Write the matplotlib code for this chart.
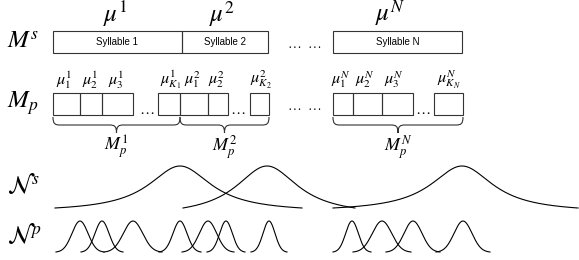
import numpy as np
import matplotlib.pyplot as plt
from matplotlib.patches import Rectangle, PathPatch
from matplotlib.path import Path

plt.rcParams['mathtext.fontset'] = 'stix'
plt.rcParams['font.family'] = ['Liberation Sans', 'DejaVu Sans']

# syllable level
syllables = ['Syllable 1', 'Syllable 2', 'Syllable N']
syl_x = [53, 182, 333]
syl_w = [129, 86, 129]
syl_mu = [r'$\mu^1$', r'$\mu^2$', r'$\mu^N$']
syl_mu_x = [115, 222, 390]

# phoneme level: box left edges / widths and labels
ph_x = [53, 80, 102, 158, 180, 208, 250, 333, 353, 382, 434]
ph_w = [27, 22, 31, 22, 28, 20, 19, 20, 29, 31, 29]
ph_labels = [r'$\mu_1^1$', r'$\mu_2^1$', r'$\mu_3^1$', r'$\mu_{K_1}^1$',
             r'$\mu_1^2$', r'$\mu_2^2$', r'$\mu_{K_2}^2$',
             r'$\mu_1^N$', r'$\mu_2^N$', r'$\mu_3^N$', r'$\mu_{K_N}^N$']
ph_label_x = [64, 90, 116, 171, 193, 217, 261, 341, 365, 394, 449]
gap_dots_x = [147, 238, 423]

brace_span = [(53, 180), (180, 269), (333, 463)]
brace_labels = [r'$M_p^1$', r'$M_p^2$', r'$M_p^N$']

# syllable-level densities (heavy-tailed): centre, left/right extent, scale
ns_mu = [180, 267, 462]
ns_left = [125, 84, 129]
ns_right = [122, 88, 116]
ns_gamma = [38, 38, 38]

# phoneme-level gaussians: centre, half extent
np_mu = [80, 102, 133, 180, 208, 226, 269, 352, 382, 413, 463]
np_half = [24, 21, 29, 21, 26, 19, 18, 19, 29, 27, 27]

fig = plt.figure(figsize=(5.79, 2.6), dpi=100)
ax = fig.add_axes([0, 0, 1, 1])
ax.set_xlim(0, 579)
ax.set_ylim(260, 0)
ax.axis('off')

edge = '#333333'
lw = 0.8

# row labels
ax.text(7, 42, r'$M^s$', fontsize=18, va='center', ha='left')
ax.text(7, 103, r'$M_p$', fontsize=18, va='center', ha='left')
ax.text(7, 186, r'$\mathcal{N}^s$', fontsize=18, va='center', ha='left')
ax.text(7, 235, r'$\mathcal{N}^p$', fontsize=18, va='center', ha='left')

# syllable boxes
for x, w, lab, mx, mu in zip(syl_x, syl_w, syllables, syl_mu_x, syl_mu):
    ax.add_patch(Rectangle((x, 31), w, 22, fill=False, ec=edge, lw=lw))
    ax.text(x + w / 2, 42, lab, fontsize=7, ha='center', va='center')
    ax.text(mx, 14, mu, fontsize=18, ha='center', va='center')

for xd in [294, 314]:
    ax.text(xd, 48, r'$\ldots$', fontsize=10, ha='center', va='baseline')
    ax.text(xd, 110, r'$\ldots$', fontsize=10, ha='center', va='baseline')

# phoneme boxes
for x, w, lab, lx in zip(ph_x, ph_w, ph_labels, ph_label_x):
    ax.add_patch(Rectangle((x, 93), w, 22, fill=False, ec=edge, lw=lw))
    ax.text(lx, 80, lab, fontsize=11.5, ha='center', va='center')
for xd in gap_dots_x:
    ax.text(xd, 114, r'$\ldots$', fontsize=11, ha='center', va='baseline')


def brace(x0, x1, ytop=117, ym=125, ytip=133, r=7):
    mid = (x0 + x1) / 2
    verts = [(x0, ytop), (x0, ym - 1), (x0 + r * 0.3, ym), (x0 + r, ym),
             (mid - r, ym),
             (mid - r * 0.3, ym), (mid, ym + 1), (mid, ytip),
             (mid, ym + 1), (mid + r * 0.3, ym), (mid + r, ym),
             (x1 - r, ym),
             (x1 - r * 0.3, ym), (x1, ym - 1), (x1, ytop)]
    codes = [Path.MOVETO, Path.CURVE4, Path.CURVE4, Path.CURVE4,
             Path.LINETO,
             Path.CURVE4, Path.CURVE4, Path.CURVE4,
             Path.CURVE4, Path.CURVE4, Path.CURVE4,
             Path.LINETO,
             Path.CURVE4, Path.CURVE4, Path.CURVE4]
    ax.add_patch(PathPatch(Path(verts, codes), fill=False, ec=edge, lw=lw))
    return mid


for (x0, x1), lab in zip(brace_span, brace_labels):
    m = brace(x0, x1)
    ax.text(m, 147, lab, fontsize=13, ha='center', va='center')

# syllable densities
base_s, top_s = 208, 166
for mu, l, r, g in zip(ns_mu, ns_left, ns_right, ns_gamma):
    x = np.linspace(mu - l, mu + r, 400)
    f = 1 / (1 + ((x - mu) / g) ** 2)
    fend = np.where(x < mu, 1 / (1 + (l / g) ** 2), 1 / (1 + (r / g) ** 2))
    f = (f - fend) / (1 - fend)
    ax.plot(x, base_s - (base_s - top_s) * f, color='black', lw=lw)

# phoneme densities
base_p, top_p = 252, 221
for mu, h in zip(np_mu, np_half):
    s = h / 3.0
    x = np.linspace(mu - h, mu + h, 200)
    f = np.exp(-0.5 * ((x - mu) / s) ** 2)
    fend = np.exp(-4.5)
    f = (f - fend) / (1 - fend)
    ax.plot(x, base_p - (base_p - top_p) * f, color='black', lw=lw)

fig.savefig('out.png', dpi=100)
